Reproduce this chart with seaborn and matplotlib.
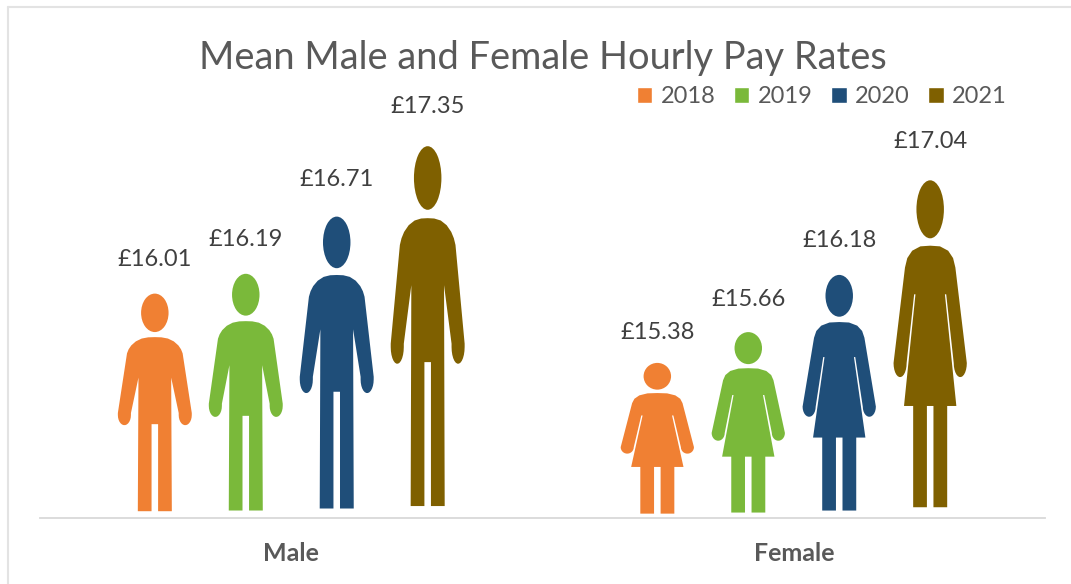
import numpy as np
import pandas as pd
import matplotlib
matplotlib.use('Agg')
import matplotlib.pyplot as plt
from matplotlib.lines import Line2D
from matplotlib.patches import Polygon, Ellipse
import seaborn as sns

categories = ['Male', 'Female']
years = ['2018', '2019', '2020', '2021']
male_pay = [16.01, 16.19, 16.71, 17.35]
female_pay = [15.38, 15.66, 16.18, 17.04]
year_colors = ['#F08033', '#7AB93A', '#1F4E79', '#7F6000']


def arm_end(cx, cy, rx, ry):
    t = np.radians(np.linspace(0, -180, 14))
    return list(zip(cx + rx * np.cos(t), cy - ry * np.sin(t)))


# right half of the figure outlines, dx from centre and y in zoomed pixels
def male_outline():
    pts = [(0, 215), (20, 216), (40, 222), (58, 236), (72, 256), (80, 275), (85, 295), (113, 590)]
    pts += arm_end(93, 600, 20, 50)
    pts += [(73, 590), (50, 415), (52, 1075), (10, 1075), (10, 645)]
    return np.array(pts) / [228, 1075]


def female_outline():
    pts = [(0, 195), (30, 197), (55, 210), (70, 232), (77, 260), (112, 545)]
    pts += arm_end(92, 545, 20, 42)
    pts += [(72, 545), (49, 340), (45, 340), (80, 673), (52, 673), (52, 975), (10, 975), (10, 673)]
    return np.array(pts) / [228, 975]


def draw_person(ax, bar, base, color, female):
    half = female_outline() if female else male_outline()
    head_h = 173 / 975 if female else 190 / 1075
    left = half * [-1, 1]
    outline = np.vstack([half, left[::-1]])
    cx = bar.get_x() + bar.get_width() / 2
    top = bar.get_height()
    # the picture fills the bar except a small gap under the feet
    span = (top - base) * 0.965
    xs = cx + outline[:, 0] * bar.get_width()
    ys = top - outline[:, 1] * span
    ax.add_patch(Polygon(np.column_stack([xs, ys]), closed=True, fc=color, ec='none', zorder=3))
    ax.add_patch(Ellipse((cx, top - head_h * span / 2), 84 / 228 * bar.get_width(),
                         head_h * span, fc=color, ec='none', zorder=3))


df = pd.DataFrame({
    'Gender': np.repeat(categories, len(years)),
    'Year': years * 2,
    'Pay': male_pay + female_pay,
})

sns.set_style('white')
plt.rcParams['font.family'] = ['Lato', 'DejaVu Sans']

fig = plt.figure(figsize=(10.71, 5.84), dpi=100)
ax = fig.add_axes([40 / 1071, 1 - 518 / 584, 1005 / 1071, 458 / 584])
sns.barplot(data=df, x='Gender', y='Pay', hue='Year', palette=year_colors, saturation=1,
            width=0.724, gap=0.18, ax=ax)

base = 13.96
ax.set_ylim(base + 0.01, base + 0.01 + 458 / 110)
ax.set_xlim(-0.5, 1.5)

for c, color in enumerate(year_colors):
    for i, bar in enumerate(ax.containers[c]):
        draw_person(ax, bar, base, color, female=i == 1)
        bar.set_visible(False)
        h = bar.get_height()
        ax.annotate(f'£{h:.2f}', (bar.get_x() + bar.get_width() / 2, base + (h - base) * 1.042),
                    xytext=(0, 17.5), textcoords='offset points', ha='center', va='center',
                    fontsize=17, color='#404040', annotation_clip=False)

sns.move_legend(ax, 'center left', bbox_to_anchor=(637 / 1071, 1 - 97 / 584),
                bbox_transform=fig.transFigure, ncol=4, frameon=False, title=None,
                fontsize=17, handlelength=0.65, handleheight=0.65, handletextpad=0.34,
                columnspacing=0.8, borderpad=0, borderaxespad=0, labelcolor='#595959')

sns.despine(ax=ax, left=True)
ax.spines['bottom'].set_color('#D9D9D9')
ax.spines['bottom'].set_linewidth(1.3)
ax.set_xlabel('')
ax.set_ylabel('')
ax.set_yticks([])
ax.tick_params(axis='x', length=0, pad=17)
for t in ax.get_xticklabels():
    t.set_fontsize(18)
    t.set_fontweight('bold')
    t.set_color('#595959')

fig.text(543 / 1071, 1 - 58 / 584, 'Mean Male and Female Hourly Pay Rates', ha='center', va='center',
         fontsize=27.4, color='#595959')

# chart frame, only its top and left edges are in the crop
frame = dict(color='#E3E3E3', lw=1.5, transform=fig.transFigure)
fig.add_artist(Line2D([8 / 1071, 8 / 1071], [0, 1 - 7 / 584], **frame))
fig.add_artist(Line2D([8 / 1071, 1], [1 - 7 / 584, 1 - 7 / 584], **frame))

fig.savefig('out.png', dpi=100)
